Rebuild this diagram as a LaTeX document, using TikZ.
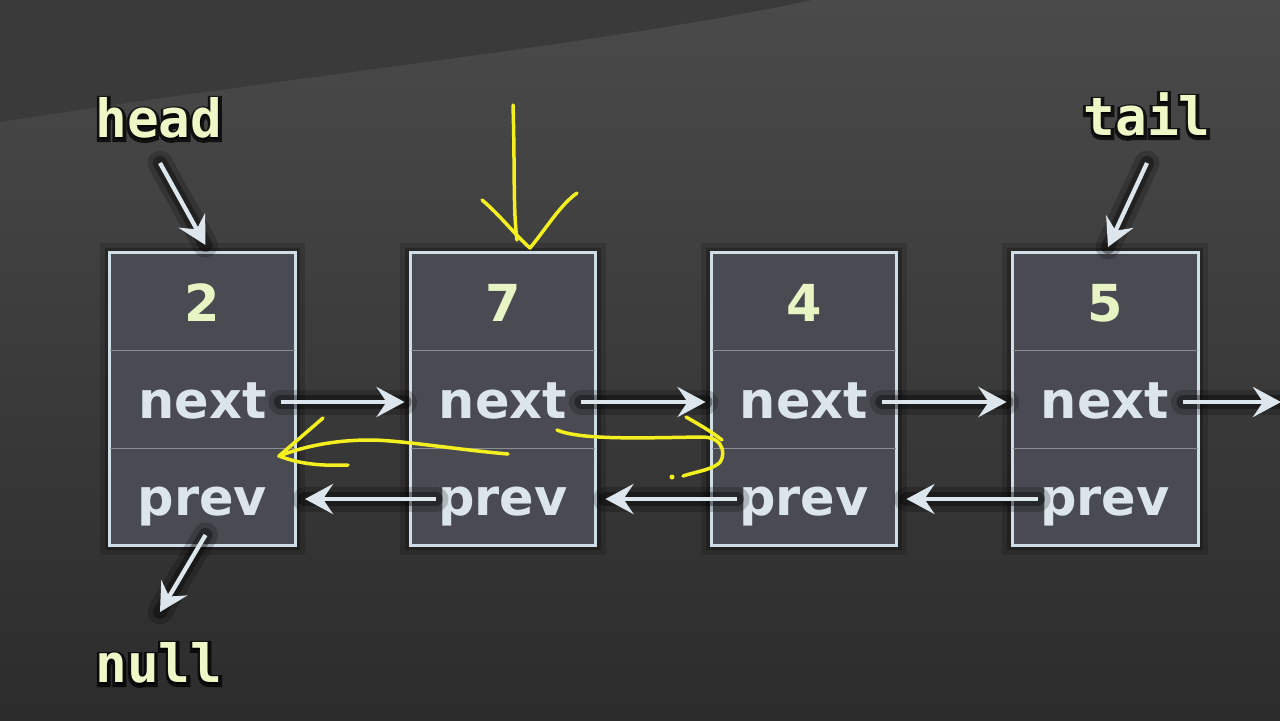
\documentclass[tikz,border=0pt]{standalone}
\usepackage{fontspec}
\setmainfont{DejaVu Sans}
\newfontfamily\monof{DejaVu Sans Mono}
\newfontfamily\monoglow[FakeBold=12]{DejaVu Sans Mono}
\usetikzlibrary{arrows.meta,calc}
\definecolor{bgA}{HTML}{4A4A4A}
\definecolor{bgB}{HTML}{2C2C2C}
\definecolor{bgTop}{HTML}{3A3A3A}
\definecolor{boxfill}{HTML}{4A4B52}
\definecolor{boxline}{HTML}{CFDDE6}
\definecolor{divline}{HTML}{8A8D92}
\definecolor{fieldc}{HTML}{DBE5EB}
\definecolor{numc}{HTML}{E6F5C3}
\definecolor{lblc}{HTML}{EEF7C6}
\definecolor{arrowc}{HTML}{DCE6EC}
\definecolor{penc}{HTML}{F4F020}
\tikzset{
  nodebox/.style={draw=boxline, fill=boxfill, line width=0.06cm,
    minimum width=3.72cm, minimum height=5.86cm, inner sep=0pt,
    preaction={draw=black, draw opacity=0.15, line width=0.4cm},
    preaction={draw=black, draw opacity=0.25, line width=0.2cm}},
  fld/.style={anchor=base, inner sep=0pt, text=fieldc,
    font=\fontsize{29}{29}\selectfont\bfseries},
  num/.style={anchor=base, inner sep=0pt, text=numc,
    font=\fontsize{29}{29}\selectfont\bfseries},
  lbl/.style={anchor=base, inner sep=0pt, text=lblc,
    font=\monof\fontsize{30}{30}\selectfont\bfseries},
  lblglow/.style={anchor=base, inner sep=0pt, text=black, text opacity=0.75,
    font=\monoglow\fontsize{30}{30}\selectfont\bfseries},
  ptr/.style={draw=arrowc, fill=arrowc, line width=0.085cm,
    -{Stealth[length=0.56cm,width=0.6cm,inset=0.2cm]},
    preaction={draw=black, draw opacity=0.2, line width=0.5cm, arrows=-, line cap=round},
    preaction={draw=black, draw opacity=0.35, line width=0.28cm, arrows=-, line cap=round}},
  hand/.style={draw=penc, line width=0.07cm, line cap=round, line join=round}
}
\begin{document}
\begin{tikzpicture}[x=0.02cm, y=-0.02cm]
\useasboundingbox (0,0) rectangle (1280,720);
% background
\shade[top color=bgA, bottom color=bgB] (0,0) rectangle (1280,720);
\fill[bgTop] (0,0) -- (812,0) .. controls (600,45) and (300,75) .. (0,122) -- cycle;

% boxes
\foreach \i/\x in {1/202.5, 2/503, 3/804, 4/1105} {
  \node[nodebox] (b\i) at (\x,399) {};
  \draw[divline, line width=0.02cm] ($(b\i.north west)+(2,99)$) -- ($(b\i.north east)+(-2,99)$);
  \draw[divline, line width=0.02cm] ($(b\i.north west)+(2,197)$) -- ($(b\i.north east)+(-2,197)$);
}
% texts
\node[num] (v1) at (202.5,321) {2};
\node[num] (v2) at (503,321) {7};
\node[num] (v3) at (804,321) {4};
\node[num] (v4) at (1105,321) {5};
\foreach \i/\x in {1/202.5, 2/503, 3/804, 4/1105} {
  \node[fld] (n\i) at (\x,418) {next};
  \node[fld] (p\i) at (\x,515) {prev};
}
\node[lblglow] (headglow) at (159,139) {head};
\node[lblglow] (tailglow) at (1147,137) {tail};
\node[lblglow] (nullglow) at (159,684) {null};
\node[lbl] (head) at (159,137) {head};
\node[lbl] (tail) at (1147,135) {tail};
\node[lbl] (null) at (159,682) {null};
\coordinate (offR) at (1281,402);

% next pointers
\draw[ptr] ($(n1.base east)+(14,-16)$) -- ($(b2.west |- n1.base)+(-4,-16)$);
\draw[ptr] ($(n2.base east)+(14,-16)$) -- ($(b3.west |- n2.base)+(-4,-16)$);
\draw[ptr] ($(n3.base east)+(14,-16)$) -- ($(b4.west |- n3.base)+(-4,-16)$);
\draw[ptr] ($(n4.base east)+(14,-16)$) -- (offR);
% prev pointers
\draw[ptr] ($(p2.base west)+(-2,-16)$) -- ($(b1.east |- p2.base)+(8,-16)$);
\draw[ptr] ($(p3.base west)+(-2,-16)$) -- ($(b2.east |- p3.base)+(8,-16)$);
\draw[ptr] ($(p4.base west)+(-2,-16)$) -- ($(b3.east |- p4.base)+(8,-16)$);
% head / tail / null
\draw[ptr] ($(head.base)+(1,26)$) -- ($(b1.north)+(3,-6)$);
\draw[ptr] ($(tail.base)+(0,28)$) -- ($(b4.north)+(3,-4)$);
\draw[ptr] ($(p1.base)+(3,20)$) -- ($(null.base)+(1,-70)$);

% hand-drawn yellow annotations
\draw[hand] (513,105) .. controls (515,170) and (513,210) .. (517,240);
\draw[hand] (482,200) .. controls (500,215) and (515,235) .. (530,248) .. controls (545,230) and (560,205) .. (577,193);
\draw[hand] (508,454) .. controls (460,450) and (400,440) .. (370,440) .. controls (330,440) and (300,448) .. (279,456);
\draw[hand] (323,418) -- (279,456) .. controls (300,464) and (320,466) .. (348,465);
\draw[hand] (557,430) .. controls (580,440) and (640,438) .. (700,437) .. controls (728,436) and (725,460) .. (718,464) .. controls (710,470) and (695,472) .. (683,476);
\draw[hand] (686,417) .. controls (700,425) and (712,432) .. (722,440);
\fill[penc] (672,477) circle (0.05cm);
\end{tikzpicture}
\end{document}
